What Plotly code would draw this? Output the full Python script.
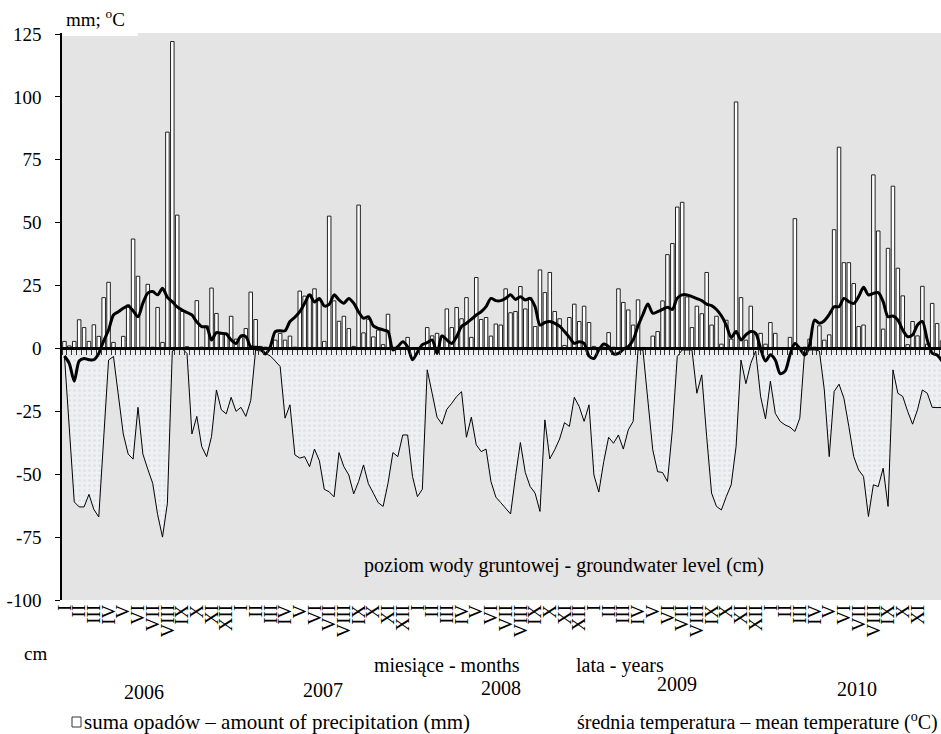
import plotly.graph_objects as go

# ---------------- data (10-day periods, 2006-2010) ----------------
years = ["2006", "2007", "2008", "2009", "2010"]
months = ["I", "II", "III", "IV", "V", "VI", "VII", "VIII", "IX", "X", "XI", "XII"]

precip_2006 = [2.8, 1.0, 2.8, 11.4, 8.3, 2.8, 9.4, 4.8, 20.2, 26.3, 2.4, 0.0,
               4.8, 17.3, 43.5, 28.7, 0.5, 25.5, 0.5, 16.3, 2.4, 86.0, 122.0, 53.0,
               14.7, 0.7, 0.0, 19.0, 0.5, 9.0, 24.0, 13.9, 6.0, 6.0, 12.8, 3.7]
precip_2007 = [4.4, 7.9, 22.4, 11.5, 0.8, 0.5, 0.3, 3.3, 6.0, 3.3, 4.9, 0.5,
               22.8, 20.8, 21.5, 23.7, 19.0, 2.8, 52.6, 18.9, 10.8, 12.8, 7.9, 0.8,
               57.0, 6.2, 11.6, 4.6, 7.3, 1.5, 13.6, 0.5, 0.3, 0.0, 4.4, 0.0]
precip_2008 = [0.0, 0.0, 8.3, 5.0, 6.0, 5.0, 15.7, 8.3, 16.3, 11.8, 20.2, 4.4,
               28.2, 11.5, 12.3, 4.9, 9.7, 9.3, 23.7, 14.2, 14.7, 24.6, 15.7, 20.2,
               8.7, 31.2, 22.2, 30.2, 14.7, 11.8, 1.2, 12.3, 17.6, 10.7, 16.8, 10.3]
precip_2009 = [0.8, 0.3, 0.5, 6.3, 0.5, 23.7, 18.3, 15.3, 9.3, 19.3, 0.4, 0.3,
               4.9, 6.7, 18.9, 37.3, 41.7, 56.2, 58.1, 20.5, 8.3, 16.8, 13.8, 30.2,
               9.3, 12.8, 1.7, 11.2, 3.7, 98.0, 20.2, 3.3, 16.8, 5.7, 6.0, 1.7]
precip_2010 = [10.3, 6.0, 0.3, 0.3, 4.4, 51.6, 0.4, 0.5, 3.7, 0.5, 9.0, 3.3,
               5.4, 47.2, 80.0, 34.1, 34.1, 25.8, 8.7, 9.3, 0.4, 69.0, 46.7, 7.7,
               39.8, 64.5, 31.9, 20.9, 1.5, 10.7, 5.0, 24.7, 1.7, 17.9, 9.9, 3.0]

temp_2006 = [-3, -6, -13, -5, -4, -4.5, -4.5, -2, 3, 7.3, 13.3, 14.6,
             16, 16.9, 15, 12.6, 18, 22, 22.6, 21.3, 23.9, 20.3, 18.6, 16.5,
             15.3, 14.3, 13.3, 10.5, 8.7, 8.5, 3.4, 6.3, 6, 5.8, 3.4, 2]
temp_2007 = [5, 4.7, 0.7, 0.5, 0, -2.2, 0.7, 6.7, 7, 7, 10.7, 12.4,
             14.6, 18, 21.3, 18.5, 19.9, 16.9, 17.5, 21.3, 19.3, 18, 19.9, 18,
             14.5, 12, 12.6, 9, 8, 7.4, 6.7, -0.6, 0.7, 2.7, 0.7, -4.5]
temp_2008 = [-1.5, 1.5, 2.3, 3.4, -2, 5, 3.4, 2, 4.7, 8.7, 10, 11.6,
             13.3, 14.6, 16.6, 19.9, 19, 19, 19.9, 21.3, 19.5, 20.6, 19.3, 19.9,
             16.6, 9.3, 10.3, 10.7, 10, 8.9, 6.7, 4.4, 2, 2.7, 2, -3]
temp_2009 = [-4, -0.6, 1.8, 0.7, -2.2, -2, -0.3, 0.7, 3.4, 8.9, 13.5, 17.7,
             14, 14.6, 15.5, 16.4, 15.5, 20, 21.3, 21.3, 20.6, 19.8, 19, 17.6,
             17, 15.5, 13, 9.3, 4.4, 6.7, 3.4, 5.4, 6.7, 6, 0, -5]
temp_2010 = [-2.5, -4.6, -10, -9, -2.5, 2, 0, -2.6, 1.4, 11.3, 10, 11,
             13.5, 16.6, 16.6, 19.9, 18.6, 17.9, 20.6, 24.3, 21.3, 21.9, 22.2, 18.6,
             12.6, 12.9, 11.3, 7.3, 4.7, 5.4, 9.3, 10.7, 3.4, -1.9, -2.6, -5]

gw_2006 = [-3, -33, -61, -63, -63, -58, -64, -67, -35, -4.6, -3.2, -18,
           -34, -42, -44, -23.4, -42, -48, -53.6, -66, -75, -61.5, -1, 0,
           0, -2, -34, -27, -39, -43, -35, -16.5, -24.4, -26, -19.4, -25]
gw_2007 = [-23.4, -27, -20.7, -0.6, -1, -2, -3, -5, -7.2, -27.7, -22.4, -42.3,
           -43.6, -43, -47, -40, -44.6, -56, -57, -59, -41.4, -47, -50.3, -57.8,
           -52.9, -46.3, -53.8, -57.5, -61.3, -62.8, -53.6, -41.4, -43, -34.4, -34.4, -50.9]
gw_2008 = [-58.9, -56, -8.5, -17.8, -27.3, -30.1, -24.2, -21.8, -19.1, -17.2, -35.3, -27.3,
           -38.3, -41, -40, -52.9, -59.1, -61.3, -63.5, -65.8, -50.9, -37.4, -49.3, -54.9,
           -57.5, -64.8, -28.4, -43.9, -40.3, -36, -29.5, -31, -19.4, -23.1, -29, -22.4]
gw_2009 = [-50.3, -57.1, -45, -35.3, -37.7, -34.4, -40, -32.4, -29, -0.6, -0.6, -20,
           -40.3, -49, -49.3, -52.9, -32.4, -3.2, -0.6, -0.6, -0.6, -17.8, -10.5, -35,
           -57.5, -62.8, -64.2, -58.9, -54.2, -39, -4.6, -14, -5.9, -1, -19, -28]
gw_2010 = [-13, -25.8, -29, -30.4, -31.3, -33, -27.7, -0.6, -0.6, -0.6, -1, -16.5,
           -43, -17.1, -14.2, -19.8, -31, -43, -48.3, -50.9, -66.8, -54.2, -54.9, -47.6,
           -62.8, -8.5, -17.8, -19.1, -25, -30.1, -24.4, -16.5, -17.8, -23.4, -23.5, -23.5]

y_ticks = [-100, -75, -50, -25, 0, 25, 50, 75, 100, 125]
y_tick_text = ["-100", "-75", "-50", "-25", "0", "25", "50", "75", "100", "125"]

precip = precip_2006 + precip_2007 + precip_2008 + precip_2009 + precip_2010
temp = temp_2006 + temp_2007 + temp_2008 + temp_2009 + temp_2010
gw = gw_2006 + gw_2007 + gw_2008 + gw_2009 + gw_2010
idx = list(range(len(precip)))

month_pos = [i for i in range(0, len(precip), 3)]
month_txt = months * len(years)

FONT = "Liberation Serif"
YMIN, YMAX = -100, 125.4
XMIN, XMAX = -0.5, 178.8

fig = go.Figure()

fig.add_trace(go.Scatter(
    x=idx, y=gw, mode="lines", line=dict(color="black", width=1),
    fill="tozeroy", fillcolor="#eceef1",
    fillpattern=dict(shape=".", bgcolor="#eef0f2", fgcolor="#d3d6db", size=5, solidity=0.3),
    hoverinfo="skip", showlegend=False))

fig.add_trace(go.Bar(
    x=idx, y=precip, width=0.72,
    marker=dict(color="white", line=dict(color="#222222", width=1)),
    hoverinfo="skip", showlegend=False))

fig.add_trace(go.Scatter(
    x=idx, y=temp, mode="lines",
    line=dict(color="black", width=3, shape="spline", smoothing=0.8),
    hoverinfo="skip", showlegend=False))

# invisible trace carrying the month-label axis
fig.add_trace(go.Scatter(x=[0], y=[0], xaxis="x2", mode="markers",
                         marker=dict(opacity=0), hoverinfo="skip", showlegend=False))

zero_pos = (0 - YMIN) / (YMAX - YMIN)

fig.update_layout(
    width=941, height=734,
    margin=dict(l=62, r=0, t=33, b=134, pad=0),
    paper_bgcolor="white", plot_bgcolor="#e4e4e4",
    bargap=0.25,
    font=dict(family=FONT, size=19, color="black"),
    xaxis=dict(range=[XMIN, XMAX], anchor="free", position=zero_pos, automargin=False,
               showline=True, linecolor="black", linewidth=2.5,
               ticks="outside", tickvals=[k - 0.5 for k in range(len(precip) + 1)],
               ticklen=5, tickwidth=1, tickcolor="#333333",
               showticklabels=False, showgrid=False, zeroline=False,
               layer="above traces"),
    xaxis2=dict(range=[XMIN, XMAX], overlaying="x", anchor="y", side="bottom",
                automargin=False,
                tickvals=month_pos, ticktext=month_txt, tickangle=-90,
                tickfont=dict(family=FONT, size=19, color="black"),
                ticks="", showline=False, showgrid=False, zeroline=False),
    yaxis=dict(range=[YMIN, YMAX], tickvals=y_ticks, ticktext=y_tick_text,
               ticks="outside", ticklen=5, automargin=False,
               tickcolor="black", showline=True, linecolor="black", linewidth=1.5,
               showgrid=False, zeroline=False, ticklabelstandoff=10,
               tickfont=dict(family=FONT, size=19, color="black")),
)

W, H = 879.0, 567.0
def px(x):
    return (x - 62) / W
def py(y):
    return (600 - y) / H

def note(text, x, y, size=20, xanchor="center"):
    fig.add_annotation(text=text, x=px(x), y=py(y), xref="paper", yref="paper",
                       showarrow=False, xanchor=xanchor, yanchor="middle",
                       font=dict(family=FONT, size=size, color="black"))

# white box behind axis title
fig.add_shape(type="rect", xref="paper", yref="paper", x0=px(62), x1=px(138),
              y0=py(36), y1=py(0), fillcolor="white", line=dict(width=0), layer="above")
note("mm; <sup>o</sup>C", 64, 18, size=19, xanchor="left")
note("cm", 35, 653, size=19)
note("miesiące - months", 447, 665)
note("lata - years", 620, 665)
for yr, xc, yc in zip(years, [144, 323, 501, 677, 857], [692, 690, 688, 684, 689]):
    note(yr, xc, yc)
note("poziom wody gruntowej - groundwater level (cm)", 564, 565)

fig.add_shape(type="rect", xref="paper", yref="paper", x0=px(72), x1=px(81),
              y0=py(727), y1=py(717), fillcolor="white", line=dict(color="#333333", width=1))
note("suma opadów – amount of precipitation (mm)", 82, 722, size=21, xanchor="left")
note("średnia temperatura – mean temperature (<sup>o</sup>C)", 940, 722, xanchor="right")

post = ("document.documentElement.style.margin='0';"
        "document.body.style.margin='0';document.body.style.padding='0';"
        "document.body.style.overflow='hidden';"
        "var gd=document.getElementById('{plot_id}');"
        "Plotly.relayout(gd,{width:941,height:734});")

fig.write_html("out.html", config={"responsive": False, "displayModeBar": False},
               post_script=post)
